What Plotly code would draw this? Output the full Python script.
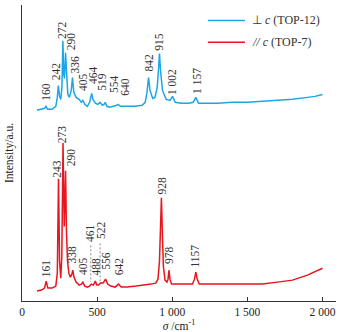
import plotly.graph_objects as go

# Raman spectra, wavenumber (cm^-1) vs intensity (a.u., upper trace offset)
perp_sigma = [100, 130, 150, 160, 170, 200, 225, 235, 242, 250, 258, 266, 272, 278, 283, 290, 297,
              305, 315, 328, 336, 345, 360, 380, 395, 405, 418, 435, 450, 458, 464, 472, 490, 505,
              519, 535, 546, 554, 565, 585, 610, 630, 640, 655, 690, 750, 800, 820, 832, 842, 852,
              870, 885, 900, 908, 915, 922, 935, 960, 985, 1002, 1020, 1060, 1110, 1140, 1157, 1175,
              1220, 1300, 1400, 1500, 1600, 1700, 1800, 1900, 1950, 2000]
perp_int = [192, 193, 194, 196, 193, 193, 196, 205, 217, 206, 203, 215, 262, 228, 224, 250, 225,
            208, 205, 212, 225, 210, 205, 203, 200, 202, 198, 196, 200, 205, 209, 203, 199, 198,
            200, 197, 198, 200, 196, 195, 196, 197, 198, 196, 196, 196, 197, 200, 210, 225, 212,
            204, 205, 215, 232, 249, 232, 212, 203, 202, 206, 200, 199, 199, 200, 205, 199,
            199, 199, 200, 200, 201, 202, 203, 205, 206, 208]

par_sigma = [100, 130, 150, 161, 172, 200, 225, 235, 243, 250, 258, 265, 273, 277, 281, 285, 290,
             296, 303, 312, 322, 332, 338, 346, 360, 380, 395, 405, 418, 435, 450, 461, 475, 488,
             498, 510, 522, 540, 556, 570, 590, 620, 642, 660, 700, 760, 820, 860, 890, 905, 915,
             922, 928, 934, 941, 952, 965, 972, 978, 985, 995, 1050, 1100, 1135, 1148, 1157, 1166,
             1180, 1250, 1400, 1500, 1600, 1700, 1800, 1900, 2000]
par_int = [10, 11, 13, 20, 13, 13, 15, 28, 123, 40, 23, 45, 159, 90, 75, 95, 131,
           70, 40, 28, 24, 27, 31, 24, 19, 16, 17, 19, 15, 14, 15, 17, 16, 20,
           16, 16, 18, 18, 22, 17, 15, 14, 17, 14, 14, 15, 16, 17, 18, 22, 40,
           70, 104, 70, 35, 21, 19, 22, 31, 22, 17, 17, 17, 17, 22, 29, 22,
           17, 17, 17, 17, 17, 19, 21, 26, 33]

perp_labels = ["160", "242", "272", "290", "336", "405", "464", "519", "554", "640",
               "842", "915", "1 002", "1 157"]
par_labels = ["161", "243", "273", "290", "338", "405", "461", "488", "522", "556",
              "642", "928", "978", "1157"]

x_ticks = [0, 500, 1000, 1500, 2000]
x_tick_text = ["0", "500", "1 000", "1 500", "2 000"]

perp_name = "⊥ <i>c</i> (TOP-12)"
par_name = "<i>// c</i> (TOP-7)"

BLUE = "#1ba6e6"
RED = "#e8141e"
SERIF = "Liberation Serif, Times New Roman, serif"

# label anchor (x, bottom of rotated text) in axis units
perp_label_pos = [(163, 201), (232, 221), (267, 263), (323, 251), (352, 228), (410, 210),
                  (477, 217), (535, 211), (617, 208), (688, 206), (845, 230), (912, 251),
                  (1003, 206), (1168, 208)]
par_label_pos = [(161, 23), (232, 123), (268, 158), (328, 135), (335, 37), (405, 25),
                 (457, 58), (495, 25), (530, 61), (563, 30), (647, 25), (930, 106),
                 (983, 36), (1150, 33)]
# dashed leaders for crowded labels: (x, top, bottom)
leaders = [(458, 56, 19), (520, 58, 18)]

fig = go.Figure()
fig.add_trace(go.Scatter(x=perp_sigma, y=perp_int, mode="lines", name=perp_name,
                         line=dict(color=BLUE, width=1.5), showlegend=False))
fig.add_trace(go.Scatter(x=par_sigma, y=par_int, mode="lines", name=par_name,
                         line=dict(color=RED, width=1.5), showlegend=False))

annotations = []
for txt, (x, y) in zip(perp_labels, perp_label_pos):
    annotations.append(dict(x=x, y=y, xref="x", yref="y", text=txt, textangle=-90,
                            showarrow=False, xanchor="center", yanchor="bottom",
                            borderpad=0, font=dict(family=SERIF, size=11.5, color="#333")))
for txt, (x, y) in zip(par_labels, par_label_pos):
    annotations.append(dict(x=x, y=y, xref="x", yref="y", text=txt, textangle=-90,
                            showarrow=False, xanchor="center", yanchor="bottom",
                            borderpad=0, font=dict(family=SERIF, size=11.5, color="#333")))

shapes = []
for x, y0, y1 in leaders:
    shapes.append(dict(type="line", xref="x", yref="y", x0=x, x1=x, y0=y0, y1=y1,
                       line=dict(color="#888", width=1, dash="2px,2px")))

# legend drawn as line samples with text
for name, color, ypos in [(perp_name, BLUE, 0.948), (par_name, RED, 0.874)]:
    shapes.append(dict(type="line", xref="paper", yref="paper", x0=0.592, x1=0.71,
                       y0=ypos, y1=ypos, line=dict(color=color, width=1.5)))
    annotations.append(dict(x=0.725, y=ypos, xref="paper", yref="paper", text=name,
                            showarrow=False, xanchor="left", yanchor="middle",
                            font=dict(family=SERIF, size=12, color="#333")))

fig.update_layout(
    width=340, height=332,
    margin=dict(l=22, r=4, t=5, b=29),
    paper_bgcolor="white", plot_bgcolor="white",
    font=dict(family=SERIF, size=11.5, color="#222"),
    annotations=annotations, shapes=shapes,
    xaxis=dict(range=[0, 2090], tickvals=x_ticks, ticktext=x_tick_text,
               showgrid=False, zeroline=False, showline=True, linecolor="#333", linewidth=1,
               ticks="inside", ticklen=4, tickcolor="#333",
               title=dict(text="<i>σ</i> /cm<sup>-1</sup>", standoff=2,
                          font=dict(family=SERIF, size=11.5))),
    yaxis=dict(range=[0, 298], showticklabels=False, showgrid=False, zeroline=False,
               showline=True, linecolor="#333", linewidth=1, ticks="",
               title=dict(text="Intensity/a.u.", standoff=4,
                          font=dict(family=SERIF, size=11.5))),
)

fig.write_html("out.html")
